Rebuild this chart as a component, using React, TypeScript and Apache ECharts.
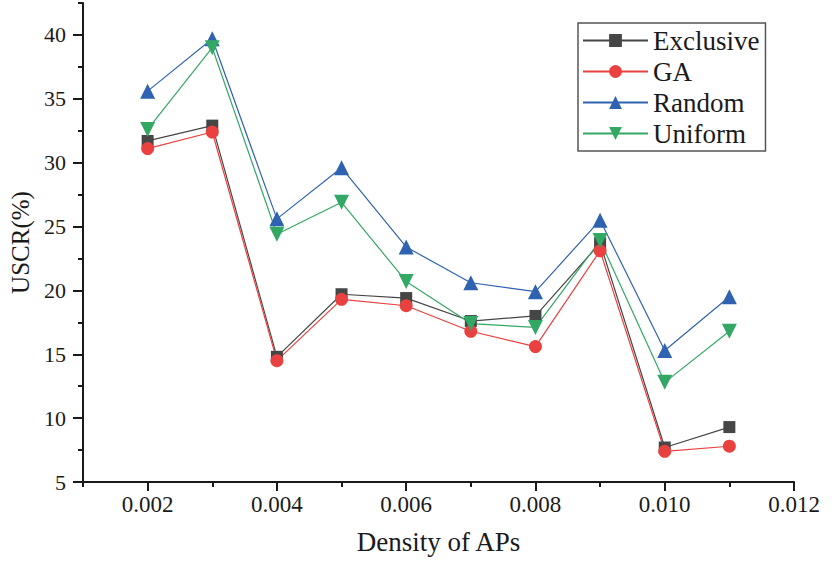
import React, { useEffect, useRef } from "react";
import * as echarts from "echarts";

const densities = [0.002, 0.003, 0.004, 0.005, 0.006, 0.007, 0.008, 0.009, 0.01, 0.011];
const exclusive = [31.7, 32.9, 14.8, 19.7, 19.4, 17.6, 18.0, 23.7, 7.7, 9.3];
const ga = [31.1, 32.4, 14.5, 19.3, 18.8, 16.8, 15.6, 23.1, 7.4, 7.8];
const random = [35.6, 39.7, 25.6, 29.6, 23.4, 20.6, 19.9, 25.5, 15.3, 19.5];
const uniform = [32.6, 39.0, 24.4, 26.9, 20.7, 17.4, 17.1, 23.9, 12.8, 16.8];
const xTickLabels = [0.002, 0.004, 0.006, 0.008, 0.01, 0.012];
const yTickLabels = [5, 10, 15, 20, 25, 30, 35, 40];

const FONT = "'Liberation Serif', 'Times New Roman', serif";
const TEXT = "#1a1a1a";
const AXIS = "#1a1a1a";

export default function App() {
  const ref = useRef<HTMLDivElement>(null);
  useEffect(() => {
    if (!ref.current) return;
    const chart = echarts.init(ref.current, null, { renderer: "svg" });
    const mk = (name: string, vals: number[], color: string, symbol: string, size: number, rot = 0) => ({
      name,
      type: "line",
      data: densities.map((d, i) => [d, vals[i]]),
      symbol,
      symbolSize: size,
      symbolRotate: rot,
      lineStyle: { color, width: 1.2 },
      itemStyle: { color },
      xAxisIndex: 0,
      yAxisIndex: 0,
    });
    chart.setOption({
      animation: false,
      textStyle: { fontFamily: FONT },
      grid: { left: 80, right: 41, top: 3, bottom: 81, containLabel: false },
      legend: {
        orient: "vertical",
        left: 578,
        top: 23,
        itemWidth: 65,
        itemHeight: 16,
        itemGap: 4,
        padding: [4, 6, 4, 4],
        borderColor: "#555",
        borderWidth: 1.5,
        backgroundColor: "#fff",
        textStyle: { fontFamily: FONT, fontSize: 27, color: TEXT, lineHeight: 27 },
        data: ["Exclusive", "GA", "Random", "Uniform"],
      },
      xAxis: [
        {
          type: "value",
          min: 0.001,
          max: 0.012,
          interval: 0.001,
          name: "Density of APs",
          nameLocation: "middle",
          nameGap: 46,
          nameTextStyle: { fontFamily: FONT, fontSize: 27, color: TEXT },
          axisLine: { show: true, lineStyle: { color: AXIS, width: 2 } },
          axisTick: { show: true, length: 9, lineStyle: { color: AXIS, width: 2 }, customValues: xTickLabels },
          axisLabel: {
            customValues: xTickLabels,
            fontFamily: FONT,
            fontSize: 23,
            color: TEXT,
            margin: 11,
            formatter: (v: number) => v.toFixed(3),
          },
          splitLine: { show: false },
        },
        {
          type: "value",
          min: 0.001,
          max: 0.012,
          interval: 0.001,
          position: "bottom",
          axisLine: { show: false },
          axisTick: { show: true, length: 5, lineStyle: { color: AXIS, width: 2 } },
          axisLabel: { show: false },
          splitLine: { show: false },
        },
      ],
      yAxis: [
        {
          type: "value",
          min: 5,
          max: 42.5,
          interval: 5,
          name: "USCR(%)",
          nameLocation: "middle",
          nameGap: 50,
          nameTextStyle: { fontFamily: FONT, fontSize: 25, color: TEXT },
          axisLine: { show: true, lineStyle: { color: AXIS, width: 2 } },
          axisTick: { show: true, length: 10, lineStyle: { color: AXIS, width: 2 }, customValues: yTickLabels },
          axisLabel: { customValues: yTickLabels, fontFamily: FONT, fontSize: 22, color: TEXT, margin: 17 },
          splitLine: { show: false },
        },
        {
          type: "value",
          min: 5,
          max: 42.5,
          interval: 2.5,
          position: "left",
          axisLine: { show: false },
          axisTick: { show: true, length: 5, lineStyle: { color: AXIS, width: 2 } },
          axisLabel: { show: false },
          splitLine: { show: false },
        },
      ],
      series: [
        mk("Exclusive", exclusive, "#464646", "rect", 12),
        mk("GA", ga, "#e8413f", "circle", 13),
        mk("Random", random, "#2f63b1", "triangle", 15),
        mk("Uniform", uniform, "#33a865", "triangle", 15, 180),
      ],
    });
    return () => chart.dispose();
  }, []);
  return <div ref={ref} style={{ width: 835, height: 563, position: "absolute", left: 0, top: 0 }} />;
}
